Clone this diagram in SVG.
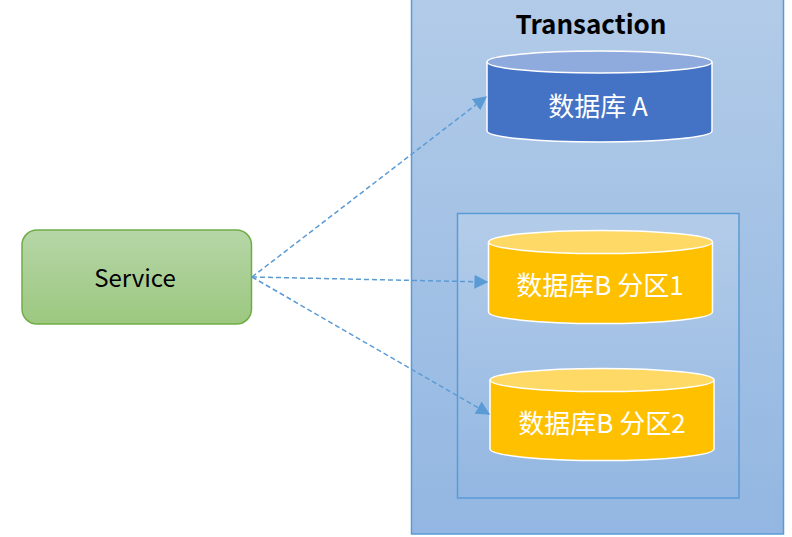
<svg xmlns="http://www.w3.org/2000/svg" width="792" height="537" viewBox="0 0 792 537">
<style>
.t{font-family:"Noto Sans CJK SC","Noto Sans",sans-serif;text-anchor:middle;dominant-baseline:central}
.w{fill:#ffffff;font-size:26px}
.conn{stroke:#5b9bd5;stroke-width:1.5;stroke-dasharray:5 3;fill:none}
</style>
<defs>
<linearGradient id="gBlue" x1="0" y1="0" x2="0" y2="1"><stop offset="0" stop-color="#b2cbe8"/><stop offset="1" stop-color="#93b7e2"/></linearGradient>
<linearGradient id="gBlue2" x1="0" y1="0" x2="0" y2="1"><stop offset="0" stop-color="#b3cce9"/><stop offset="1" stop-color="#93b7e2"/></linearGradient>
<linearGradient id="gGreen" x1="0" y1="0" x2="0" y2="1"><stop offset="0" stop-color="#b6d6a7"/><stop offset="1" stop-color="#9cc880"/></linearGradient>
<marker id="arrL" viewBox="0 0 10 10" refX="9" refY="5" markerWidth="14" markerHeight="14" orient="auto" markerUnits="userSpaceOnUse"><path d="M0,0 L10,5 L0,10 z" fill="#5b9bd5"/></marker>
</defs>
<rect width="792" height="537" fill="#ffffff"/>
<g id="transaction">
<rect x="411.5" y="-5" width="372" height="539" fill="url(#gBlue)" stroke="#5b9bd5" stroke-width="1.5"/>
<text class="t" x="591" y="22" font-size="26" font-weight="bold" fill="#000000">Transaction</text>
</g>
<g id="partition-group">
<rect x="457.5" y="213.5" width="281.5" height="284.5" fill="url(#gBlue2)" stroke="#5b9bd5" stroke-width="1.5"/>
</g>
<g id="dbA">
<path d="M487,62 L487,131 A112.5,11 0 0 0 712,131 L712,62" fill="#4472c4" stroke="#ffffff" stroke-width="1.5"/>
<ellipse cx="599.5" cy="62" rx="112.5" ry="11" fill="#8faadc" stroke="#ffffff" stroke-width="1.5"/>
<text class="t w" x="598" y="104">数据库 A</text>
</g>
<g id="dbB1">
<path d="M488.5,242 L488.5,312 A112,11.5 0 0 0 712.5,312 L712.5,242" fill="#ffc000" stroke="#ffffff" stroke-width="1.5"/>
<ellipse cx="600.5" cy="242" rx="112" ry="11.5" fill="#ffd966" stroke="#ffffff" stroke-width="1.5"/>
<text class="t w" x="600" y="283">数据库B 分区1</text>
</g>
<g id="dbB2">
<path d="M490,380 L490,449 A112,11.5 0 0 0 714,449 L714,380" fill="#ffc000" stroke="#ffffff" stroke-width="1.5"/>
<ellipse cx="602" cy="380" rx="112" ry="11.5" fill="#ffd966" stroke="#ffffff" stroke-width="1.5"/>
<text class="t w" x="602" y="421">数据库B 分区2</text>
</g>
<g id="service">
<rect x="22" y="230" width="229.5" height="94" rx="15" ry="15" fill="url(#gGreen)" stroke="#70ad47" stroke-width="1.5"/>
<text class="t" x="135" y="276" font-size="24" fill="#000000">Service</text>
</g>
<g id="connectors">
<path class="conn" d="M252,277 L486,97" marker-end="url(#arrL)"/>
<path class="conn" d="M252,277 L487,282" marker-end="url(#arrL)"/>
<path class="conn" d="M252,277 L489,414" marker-end="url(#arrL)"/>
</g>
</svg>
